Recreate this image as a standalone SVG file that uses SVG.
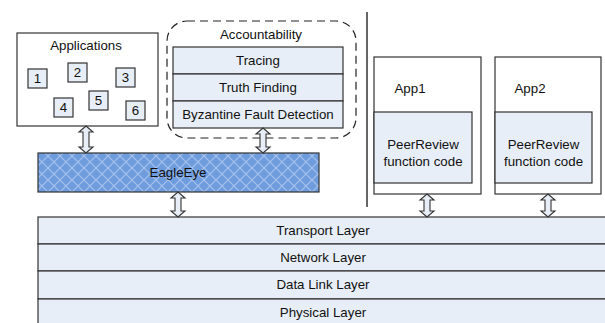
<svg xmlns="http://www.w3.org/2000/svg" width="605" height="323" viewBox="0 0 605 323">
<style>
text{font-family:"Liberation Sans",Arial,sans-serif;font-size:13.3px;fill:#111;text-anchor:middle;dominant-baseline:central}
.box{fill:#fff;stroke:#333;stroke-width:1.2}
.lb{fill:#E8EEF7;stroke:#333;stroke-width:1.2}
.sq{fill:#E8EEF7;stroke:#333;stroke-width:1.2}
.arr{fill:#E8EEF7;stroke:#333;stroke-width:1.1;stroke-linejoin:miter}
</style>
<defs>
<pattern id="hatch" width="12" height="12" patternUnits="userSpaceOnUse">
<rect width="12" height="12" fill="#6E9CDD"/>
<path d="M0,0 L12,12 M12,0 L0,12" stroke="#A6C2EC" stroke-width="1.2"/>
</pattern>
</defs>

<g id="applications">
<rect class="box" x="17" y="33" width="141" height="93"/>
<text x="86" y="45">Applications</text>
<rect class="sq" x="28" y="69" width="19" height="19"/><text x="37.5" y="78.5">1</text>
<rect class="sq" x="68" y="63" width="19" height="19"/><text x="77.5" y="72.5">2</text>
<rect class="sq" x="116" y="68" width="19" height="19"/><text x="125.5" y="77.5">3</text>
<rect class="sq" x="54" y="98" width="19" height="19"/><text x="63.5" y="107.5">4</text>
<rect class="sq" x="89" y="91" width="19" height="19"/><text x="98.5" y="100.5">5</text>
<rect class="sq" x="126" y="101" width="19" height="19"/><text x="135.5" y="110.5">6</text>
</g>

<g id="accountability">
<rect x="167" y="21" width="189" height="117" rx="20" ry="20" fill="none" stroke="#222" stroke-width="1.2" stroke-dasharray="8 5"/>
<text x="261" y="34">Accountability</text>
<rect class="lb" x="173" y="47" width="170" height="27"/><text x="258" y="60.5">Tracing</text>
<rect class="lb" x="173" y="74" width="170" height="27"/><text x="258" y="87.5">Truth Finding</text>
<rect class="lb" x="173" y="101" width="170" height="27"/><text x="258" y="114.5">Byzantine Fault Detection</text>
</g>

<g id="eagleeye">
<rect x="38" y="153" width="281" height="39" fill="url(#hatch)" stroke="#333" stroke-width="1.2"/>
<text x="178" y="172.5">EagleEye</text>
</g>

<g id="divider">
<line x1="367" y1="12" x2="367" y2="207" stroke="#333" stroke-width="1.5"/>
</g>

<g id="app1">
<rect class="box" x="374" y="57" width="107" height="137"/>
<text x="410" y="88">App1</text>
<rect class="lb" x="374" y="112" width="98" height="71"/>
<text x="423" y="144">PeerReview</text>
<text x="423" y="161">function code</text>
</g>

<g id="app2">
<rect class="box" x="495" y="57" width="106" height="137"/>
<text x="530" y="88">App2</text>
<rect class="lb" x="495" y="112" width="97" height="71"/>
<text x="543.5" y="144">PeerReview</text>
<text x="543.5" y="161">function code</text>
</g>

<g id="layers">
<rect class="lb" x="38" y="217" width="570" height="27"/><text x="323" y="230.5">Transport Layer</text>
<rect class="lb" x="38" y="244" width="570" height="27"/><text x="323" y="257.5">Network Layer</text>
<rect class="lb" x="38" y="271" width="570" height="28"/><text x="323" y="284.5">Data Link Layer</text>
<rect class="lb" x="38" y="299" width="570" height="28"/><text x="323" y="312">Physical Layer</text>
</g>

<g id="connectors">
<path class="arr" d="M86,126 L93,132 L89,132 L89,147 L93,147 L86,153 L79,147 L83,147 L83,132 L79,132 Z"/>
<path class="arr" d="M263,128 L270,134 L266,134 L266,147 L270,147 L263,153 L256,147 L260,147 L260,134 L256,134 Z"/>
<path class="arr" d="M178,192 L185,198 L181,198 L181,211 L185,211 L178,217 L171,211 L175,211 L175,198 L171,198 Z"/>
<path class="arr" d="M427,194 L434,200 L430,200 L430,211 L434,211 L427,217 L420,211 L424,211 L424,200 L420,200 Z"/>
<path class="arr" d="M548,194 L555,200 L551,200 L551,211 L555,211 L548,217 L541,211 L545,211 L545,200 L541,200 Z"/>
</g>
</svg>
